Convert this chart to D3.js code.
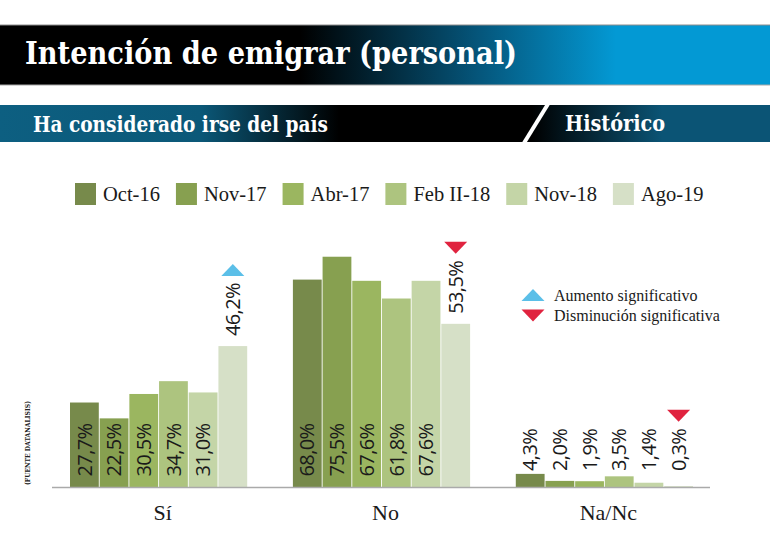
<!DOCTYPE html>
<html>
<head>
<meta charset="utf-8">
<script src="https://cdn.jsdelivr.net/npm/d3@7"></script>
<style>
  body { margin: 0; background: #fff; }
  svg { display: block; }
</style>
</head>
<body>
<div id="chart"></div>
<script>
// data
const categories = ["Sí", "No", "Na/Nc"];
const series = ["Oct-16", "Nov-17", "Abr-17", "Feb II-18", "Nov-18", "Ago-19"];
const valuesSi = [27.7, 22.5, 30.5, 34.7, 31.0, 46.2];
const valuesNo = [68.0, 75.5, 67.6, 61.8, 67.6, 53.5];
const valuesNaNc = [4.3, 2.0, 1.9, 3.5, 1.4, 0.3];
const seriesColors = ["#778a4b", "#87a050", "#9bb660", "#adc47f", "#c4d5a7", "#d6e0c7"];
// significant changes (category, series, direction)
const changes = [
    { category: "Sí", serie: "Ago-19", dir: "up" },
    { category: "No", serie: "Ago-19", dir: "down" },
    { category: "Na/Nc", serie: "Ago-19", dir: "down" }
];
const changeLegend = [
    { dir: "up", label: "Aumento significativo" },
    { dir: "down", label: "Disminución significativa" }
];

const WIDTH = 770;
const HEIGHT = 552;
const SERIF = "'Liberation Serif', 'DejaVu Serif', serif";
const SLAB = "'DejaVu Serif Condensed', 'DejaVu Serif', serif";
const SANS = "'Open Sans', 'Noto Sans', sans-serif";
const UP = "#5bbfe8";
const DOWN = "#e0233f";

const valuesByCat = { "Sí": valuesSi, "No": valuesNo, "Na/Nc": valuesNaNc };
const rows = [];
categories.forEach(c => {
    series.forEach((s, i) => rows.push({ category: c, serie: s, idx: i, value: valuesByCat[c][i] }));
});

const fmt = d3.formatLocale({ decimal: ",", thousands: ".", grouping: [3], currency: ["", "€"] }).format(".1f");

const svg = d3.select("#chart").append("svg")
    .attr("width", WIDTH)
    .attr("height", HEIGHT);

const defs = svg.append("defs");

// header bands
let g1 = defs.append("linearGradient").attr("id", "titleGrad")
    .attr("x1", 0).attr("x2", 1).attr("y1", 0).attr("y2", 0);
[[0, "#000"], [0.39, "#000"], [0.62, "#05557a"], [0.8, "#0399d4"], [1, "#0399d4"]]
    .forEach(s => g1.append("stop").attr("offset", s[0]).attr("stop-color", s[1]));

let g2 = defs.append("linearGradient").attr("id", "subGrad")
    .attr("x1", 0).attr("x2", 1).attr("y1", 0).attr("y2", 0);
[[0, "#0d5f81"], [0.26, "#0b5878"], [0.44, "#000"], [0.69, "#000"], [0.86, "#0b5475"], [1, "#0b5475"]]
    .forEach(s => g2.append("stop").attr("offset", s[0]).attr("stop-color", s[1]));

svg.append("rect").attr("x", 0).attr("y", 25).attr("width", WIDTH).attr("height", 60)
    .attr("fill", "url(#titleGrad)");
svg.append("line").attr("x1", 0).attr("x2", WIDTH).attr("y1", 25).attr("y2", 25)
    .attr("stroke", "#8c8c8c").attr("stroke-width", 1);
svg.append("line").attr("x1", 0).attr("x2", WIDTH).attr("y1", 85).attr("y2", 85)
    .attr("stroke", "#a8a8a8").attr("stroke-width", 1);

svg.append("text")
    .attr("x", 25).attr("y", 64)
    .attr("font-family", SLAB).attr("font-weight", "bold").attr("font-size", 32)
    .attr("fill", "#fff")
    .attr("textLength", 492).attr("lengthAdjust", "spacingAndGlyphs")
    .text("Intención de emigrar (personal)");

svg.append("rect").attr("x", 0).attr("y", 105).attr("width", WIDTH).attr("height", 37)
    .attr("fill", "url(#subGrad)");
svg.append("line").attr("x1", 548).attr("y1", 104).attr("x2", 524).attr("y2", 143)
    .attr("stroke", "#fff").attr("stroke-width", 4);

svg.append("text")
    .attr("x", 33).attr("y", 131.5)
    .attr("font-family", SLAB).attr("font-weight", "bold").attr("font-size", 22)
    .attr("fill", "#fff")
    .attr("textLength", 295).attr("lengthAdjust", "spacingAndGlyphs")
    .text("Ha considerado irse del país");
svg.append("text")
    .attr("x", 565).attr("y", 131)
    .attr("font-family", SLAB).attr("font-weight", "bold").attr("font-size", 22)
    .attr("fill", "#fff")
    .attr("textLength", 100).attr("lengthAdjust", "spacingAndGlyphs")
    .text("Histórico");

// legend of series
const legend = svg.append("g").attr("class", "legend");
let lx = 75;
series.forEach((s, i) => {
    let item = legend.append("g").attr("transform", `translate(${lx}, 183)`);
    item.append("rect").attr("width", 21).attr("height", 22).attr("fill", seriesColors[i]);
    let t = item.append("text")
        .attr("x", 28).attr("y", 11).attr("dy", "0.35em")
        .attr("font-family", SERIF).attr("font-size", 20.5).attr("fill", "#1a1a1a")
        .text(s);
    lx += 28 + t.node().getComputedTextLength() + 16;
});

// scales
const x0 = d3.scaleBand()
    .domain(categories)
    .range([70, 693])
    .paddingInner(0.205)
    .paddingOuter(0);

const x1 = d3.scaleBand()
    .domain(series)
    .range([0, x0.bandwidth()])
    .paddingInner(0.03);

const y = d3.scaleLinear()
    .domain([0, 100])
    .range([487, 182]);

const color = d3.scaleOrdinal().domain(series).range(seriesColors);

// bars
svg.append("g").selectAll("rect")
    .data(rows)
    .join("rect")
    .attr("x", d => x0(d.category) + x1(d.serie))
    .attr("y", d => y(d.value))
    .attr("width", x1.bandwidth())
    .attr("height", d => y(0) - y(d.value))
    .attr("fill", d => color(d.serie));

// baseline
svg.append("line")
    .attr("x1", 52).attr("x2", 710)
    .attr("y1", y(0) + 0.5).attr("y2", y(0) + 0.5)
    .attr("stroke", "#aaa").attr("stroke-width", 1.5);

// value labels
function labelStart(d) {
    if (d.value < 10) return y(0) - 16;
    if (d.idx === series.length - 1) return y(d.value) - 10;
    return y(0) - 10.5;
}
const labels = svg.append("g").selectAll("text")
    .data(rows)
    .join("text")
    .attr("transform", d => `translate(${x0(d.category) + x1(d.serie) + x1.bandwidth() / 2}, ${labelStart(d)}) rotate(-90)`)
    .attr("dy", "0.36em")
    .attr("font-family", SANS).attr("font-size", 20).attr("letter-spacing", -0.6)
    .attr("fill", "#1a1a1a")
    .text(d => fmt(d.value) + "%");

const labelTop = {};
labels.each(function (d) {
    labelTop[d.category + "|" + d.serie] = labelStart(d) - this.getComputedTextLength();
});

// triangles
function tri(dir) {
    return dir === "up" ? "M-11.5,6L11.5,6L0,-6Z" : "M-11.5,-6L11.5,-6L0,6Z";
}
svg.append("g").selectAll("path")
    .data(changes)
    .join("path")
    .attr("transform", d => `translate(${x0(d.category) + x1(d.serie) + x1.bandwidth() / 2}, ${labelTop[d.category + "|" + d.serie] - 13})`)
    .attr("d", d => tri(d.dir))
    .attr("fill", d => d.dir === "up" ? UP : DOWN);

// change legend
const cl = svg.append("g").selectAll("g")
    .data(changeLegend)
    .join("g")
    .attr("transform", (d, i) => `translate(533, ${295 + i * 20.5})`);
cl.append("path").attr("d", d => tri(d.dir)).attr("fill", d => d.dir === "up" ? UP : DOWN);
cl.append("text")
    .attr("x", 21).attr("dy", "0.35em")
    .attr("font-family", SERIF).attr("font-size", 16).attr("fill", "#1a1a1a")
    .text(d => d.label);

// category labels
svg.append("g").selectAll("text")
    .data(categories)
    .join("text")
    .attr("x", d => x0(d) + x0.bandwidth() / 2 + 4)
    .attr("y", 520)
    .attr("text-anchor", "middle")
    .attr("font-family", SERIF).attr("font-size", 22).attr("fill", "#1a1a1a")
    .text(d => d);

// source
svg.append("text")
    .attr("transform", "translate(27, 443) rotate(-90)")
    .attr("text-anchor", "middle").attr("dy", "0.35em")
    .attr("font-family", SLAB).attr("font-weight", "bold").attr("font-size", 8)
    .attr("fill", "#222")
    .attr("textLength", 84).attr("lengthAdjust", "spacingAndGlyphs")
    .text("(FUENTE DATANALISIS)");
</script>
</body>
</html>
